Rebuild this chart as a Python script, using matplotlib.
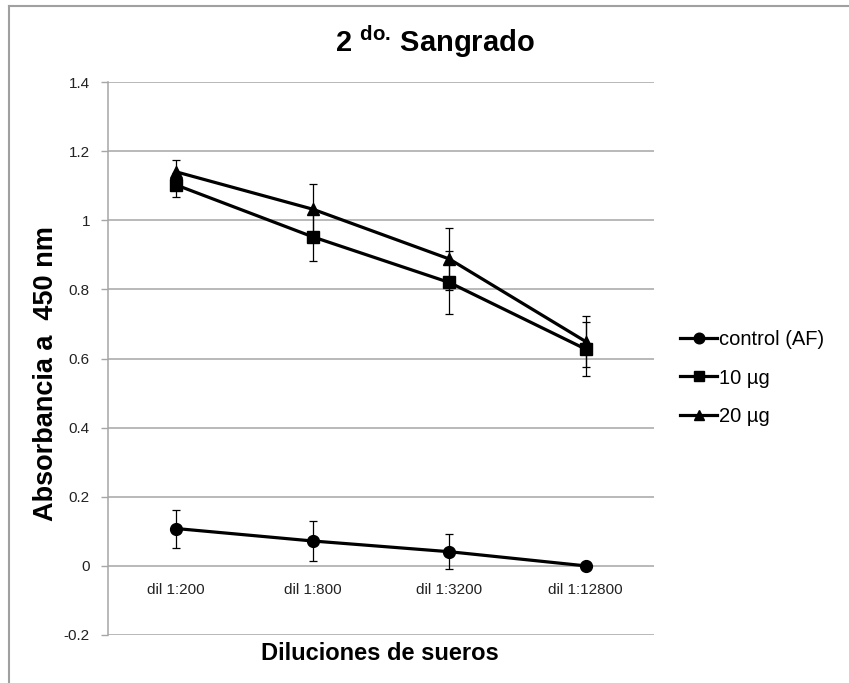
import matplotlib
matplotlib.use('Agg')
import matplotlib.pyplot as plt
from matplotlib.lines import Line2D

plt.rcParams['font.family'] = ['Liberation Sans', 'DejaVu Sans']
plt.rcParams['mathtext.fontset'] = 'custom'
plt.rcParams['mathtext.rm'] = 'Liberation Sans'
plt.rcParams['mathtext.bf'] = 'Liberation Sans:bold'

# datos
diluciones = ['dil 1:200', 'dil 1:800', 'dil 1:3200', 'dil 1:12800']
control = [0.108, 0.072, 0.041, 0.0]
control_err = [0.055, 0.058, 0.051, 0.0]
ug10 = [1.102, 0.952, 0.820, 0.627]
ug10_err = [0.035, 0.070, 0.090, 0.078]
ug20 = [1.140, 1.032, 0.888, 0.649]
ug20_err = [0.035, 0.072, 0.090, 0.075]

W, H = 849, 683
fig = plt.figure(figsize=(W / 100, H / 100), dpi=100)
ax = fig.add_axes([108 / W, 1 - 635 / H, 546 / W, 553 / H])

x = list(range(len(diluciones)))
gris = '#a6a6a6'

series = [
    (control, control_err, 'o', 'control (AF)'),
    (ug10, ug10_err, 's', '10 µg'),
    (ug20, ug20_err, '^', '20 µg'),
]
handles = []
for vals, err, mk, lab in series:
    ax.errorbar(x, vals, yerr=err, fmt='none', ecolor='black', elinewidth=0.9,
                capsize=3, capthick=0.9, zorder=3)
    h, = ax.plot(x, vals, color='black', lw=2.3, marker=mk, markersize=8.5,
                 label=lab, zorder=4)
    handles.append(h)

ax.set_xlim(-0.5, 3.5)
ax.set_ylim(-0.2, 1.4)
yt = [-0.2, 0, 0.2, 0.4, 0.6, 0.8, 1.0, 1.2, 1.4]
ax.set_yticks(yt)
ax.set_yticklabels(['-0.2', '0', '0.2', '0.4', '0.6', '0.8', '1', '1.2', '1.4'])
ax.yaxis.grid(True, color=gris, lw=1.1)
ax.set_axisbelow(True)
ax.tick_params(axis='y', length=5, width=1, color=gris, pad=8, labelsize=11,
               labelcolor='#222222')

ax.set_xticks(x)
ax.set_xticklabels(diluciones)
ax.spines['bottom'].set_position(('data', 0))
ax.spines['bottom'].set_visible(False)
ax.tick_params(axis='x', length=0, pad=12, labelsize=11, labelcolor='#222222')

for s in ['top', 'right']:
    ax.spines[s].set_visible(False)
ax.spines['left'].set_color(gris)
ax.spines['left'].set_linewidth(1.1)

fig.text(435 / W, 1 - 52 / H, r'2 $^{\mathbf{do.}}\,$Sangrado', ha='center',
         va='baseline', fontsize=21, fontweight='bold')
fig.text(380 / W, 1 - 660 / H, 'Diluciones de sueros', ha='center',
         va='baseline', fontsize=17, fontweight='bold')
fig.text(46 / W, 1 - 374 / H, 'Absorbancia a  450 nm', ha='center',
         va='center', rotation=90, fontsize=19.5, fontweight='bold')

fig.legend(handles=handles, loc='center left',
           bbox_to_anchor=(680 / W, 1 - 378 / H), frameon=False,
           fontsize=14.5, handlelength=1.85, handletextpad=0.1,
           labelspacing=0.97, borderpad=0, borderaxespad=0, markerscale=0.9)

# borde del grafico
fig.add_artist(Line2D([9 / W, 1], [1 - 6 / H, 1 - 6 / H], color='#a0a0a0', lw=1.5))
fig.add_artist(Line2D([9 / W, 9 / W], [0, 1 - 6 / H], color='#a0a0a0', lw=1.5))

fig.savefig('out.png', dpi=100)
